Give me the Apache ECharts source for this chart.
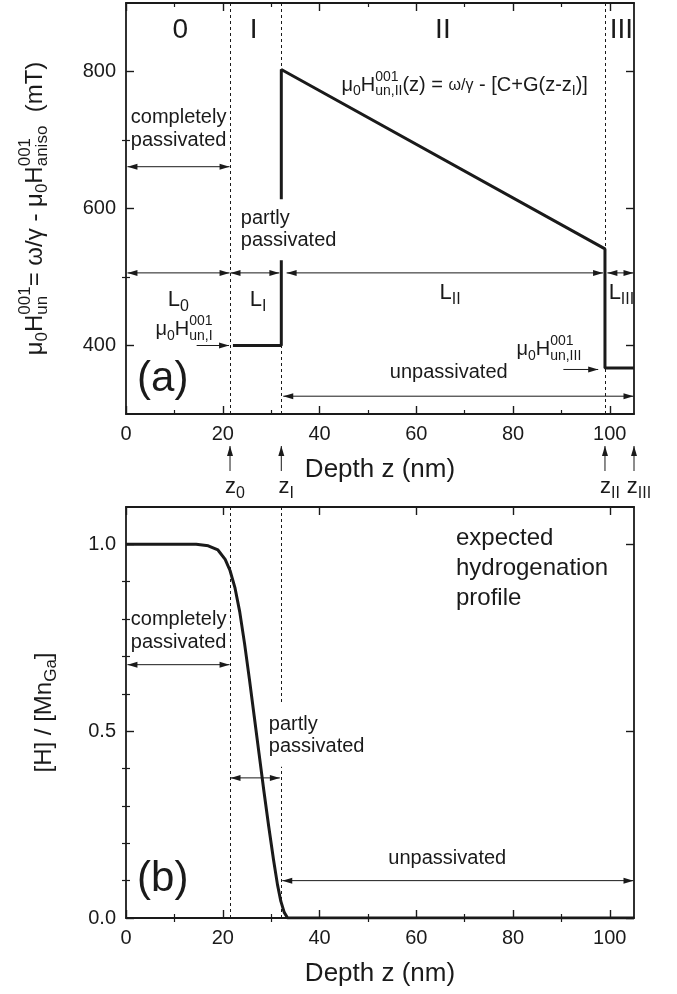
<!DOCTYPE html>
<html>
<head>
<meta charset="utf-8">
<script src="https://cdn.jsdelivr.net/npm/echarts@6/dist/echarts.min.js"></script>
<style>
  html, body { margin: 0; background: #fff; }
  #chart { width: 677px; height: 994px; }
</style>
</head>
<body>
<div id="chart"></div>
<script>
// ---- data ----
const depthMin = 0, depthMax = 105;
const xTickLabels = [0, 20, 40, 60, 80, 100];
const xMinorTicks = [10, 30, 50, 70, 90];
const fieldMin = 300, fieldMax = 900;
const fieldTickLabels = [400, 600, 800];
const fieldMinorTicks = [500, 700];
const hMin = 0, hMax = 1.1;
const hTickLabels = [0, 0.5, 1.0];
const hMinorTicks = [0.1, 0.2, 0.3, 0.4, 0.6, 0.7, 0.8, 0.9];

// layer boundaries z0, zI, zII, zIII (nm)
const zBounds = [21.5, 32.1, 99, 105];

// (a) uniaxial anisotropy field vs depth
const fieldDepth = [22.1, 32.1, 32.1, 99, 99, 105];
const fieldValue = [400, 400, 803, 541, 367, 367];

// (b) expected hydrogenation profile
const hDepth = [0, 14.5, 17, 19, 20.5, 21.5, 22.5, 23.5, 24.5, 25.5, 26.5, 27.5, 28.5, 29.5, 30.5, 31.3, 32, 32.7, 33.4, 105];
const hValue = [1, 1, 0.996, 0.985, 0.96, 0.93, 0.885, 0.82, 0.735, 0.64, 0.54, 0.44, 0.34, 0.245, 0.155, 0.09, 0.045, 0.015, 0, 0];

const INK = '#1a1a1a';
const FONT = '"Liberation Sans", Arial, sans-serif';

const chart = echarts.init(document.getElementById('chart'), null, { renderer: 'canvas' });

function sideAxes(grid, min, max, major, minor, pos, withLabels, extra) {
  return [
    Object.assign({
      type: 'value', gridIndex: grid, position: pos, min, max,
      axisLine: { show: true, onZero: false, lineStyle: { color: INK, width: 1.8 } },
      axisTick: { show: true, inside: true, length: 8, customValues: major, lineStyle: { color: INK, width: 1.4 } },
      axisLabel: { show: withLabels, customValues: major, margin: 10, fontSize: 20, fontFamily: FONT, color: INK },
      splitLine: { show: false },
    }, extra || {}),
    {
      type: 'value', gridIndex: grid, position: pos, min, max,
      axisLine: { show: false },
      axisTick: { show: true, inside: true, length: 4, customValues: minor, lineStyle: { color: INK, width: 1.2 } },
      axisLabel: { show: false },
      splitLine: { show: false },
    },
  ];
}

const depthName = {
  name: 'Depth z (nm)', nameLocation: 'middle', nameGap: 43,
  nameTextStyle: { fontSize: 26, fontFamily: FONT, color: INK },
};

const dashed = (xs) => ({
  silent: true, symbol: 'none', label: { show: false },
  lineStyle: { color: INK, width: 1, type: [3, 3] },
  data: xs.map(v => ({ xAxis: v })),
});

chart.setOption({
  animation: false,
  grid: [
    { left: 126, top: 3, width: 508, height: 411 },
    { left: 126, top: 507, width: 508, height: 411 },
  ],
  xAxis: [
    ...sideAxes(0, depthMin, depthMax, xTickLabels, xMinorTicks, 'bottom', true, depthName),
    ...sideAxes(0, depthMin, depthMax, xTickLabels, xMinorTicks, 'top', false),
    ...sideAxes(1, depthMin, depthMax, xTickLabels, xMinorTicks, 'bottom', true, depthName),
    ...sideAxes(1, depthMin, depthMax, xTickLabels, xMinorTicks, 'top', false),
  ],
  yAxis: [
    ...sideAxes(0, fieldMin, fieldMax, fieldTickLabels, fieldMinorTicks, 'left', true),
    ...sideAxes(0, fieldMin, fieldMax, fieldTickLabels, fieldMinorTicks, 'right', false),
    ...sideAxes(1, hMin, hMax, hTickLabels, hMinorTicks, 'left', true,
      { axisLabel: { customValues: hTickLabels, margin: 10, fontSize: 20, fontFamily: FONT, color: INK, formatter: v => v.toFixed(1) } }),
    ...sideAxes(1, hMin, hMax, hTickLabels, hMinorTicks, 'right', false),
  ],
  series: [
    {
      type: 'line', xAxisIndex: 0, yAxisIndex: 0,
      data: fieldDepth.map((z, i) => [z, fieldValue[i]]),
      showSymbol: false, silent: true,
      lineStyle: { color: INK, width: 3 },
      markLine: dashed(zBounds.slice(0, 3)),
    },
    {
      type: 'line', xAxisIndex: 4, yAxisIndex: 4,
      data: hDepth.map((z, i) => [z, hValue[i]]),
      showSymbol: false, silent: true,
      lineStyle: { color: INK, width: 3, join: 'round' },
      markLine: dashed(zBounds.slice(0, 2)),
    },
  ],
});

// ---- annotations (data units of each panel) ----
const arrowsA = [
  [0.3, 661, 21.4, 661, 'both'],
  [0.3, 506, 21.4, 506, 'both'],
  [21.6, 506, 31.7, 506, 'both'],
  [33.2, 506, 98.6, 506, 'both'],
  [99.5, 506, 104.9, 506, 'both'],
  [32.5, 326, 104.9, 326, 'both'],
  [14.6, 400, 21.3, 400, 'end'],
  [90.4, 365, 97.6, 365, 'end'],
];
const arrowsB = [
  [0.3, 0.678, 21.4, 0.678, 'both'],
  [21.6, 0.375, 31.8, 0.375, 'both'],
  [32.3, 0.1, 104.9, 0.1, 'both'],
];

const P = (s, x, y) => chart.convertToPixel({ seriesIndex: s }, [x, y]);

const ctx = document.createElement('canvas').getContext('2d');
function tw(s, size) { ctx.font = size + 'px ' + FONT; return ctx.measureText(s).width; }

function txt(t, x, y, size, extra) {
  return {
    type: 'text', x, y, z: 100, silent: true,
    style: Object.assign({
      text: t, font: size + 'px ' + FONT, fill: INK,
      align: 'left', verticalAlign: 'middle', textAlign: 'left', textVerticalAlign: 'middle',
    }, extra || {}),
  };
}

// parts: plain strings, {t, size} or {sup, sub} stacked scripts
function mathText(parts, size, pos, rotation) {
  const small = Math.round(size * 0.72);
  const kids = [];
  let x = 0;
  parts.forEach(p => {
    if (typeof p === 'string') { kids.push(txt(p, x, 0, size)); x += tw(p, size); }
    else if (p.t) { kids.push(txt(p.t, x, 0, p.size)); x += tw(p.t, p.size); }
    else {
      let w = 0;
      if (p.sup) { kids.push(txt(p.sup, x, -size * 0.42, small)); w = Math.max(w, tw(p.sup, small)); }
      if (p.sub) { kids.push(txt(p.sub, x, size * 0.32, small)); w = Math.max(w, tw(p.sub, small)); }
      x += w;
    }
  });
  kids.forEach(k => { k.x -= x / 2; });
  return { type: 'group', x: pos[0], y: pos[1], rotation: rotation || 0, children: kids };
}

function arrow(a, b, heads) {
  const head = (tip, from) => {
    const dx = tip[0] - from[0], dy = tip[1] - from[1];
    const L = Math.hypot(dx, dy), ux = dx / L, uy = dy / L, len = 10, hw = 3;
    return {
      type: 'polygon', z: 90, silent: true,
      shape: { points: [tip, [tip[0] - ux * len - uy * hw, tip[1] - uy * len + ux * hw], [tip[0] - ux * len + uy * hw, tip[1] - uy * len - ux * hw]] },
      style: { fill: INK },
    };
  };
  const els = [{ type: 'line', z: 90, silent: true, shape: { x1: a[0], y1: a[1], x2: b[0], y2: b[1] }, style: { stroke: INK, lineWidth: 1 } }];
  if (heads === 'both') els.push(head(a, b));
  els.push(head(b, a));
  return els;
}

const g = [];
arrowsA.forEach(r => g.push(...arrow(P(0, r[0], r[1]), P(0, r[2], r[3]), r[4])));
arrowsB.forEach(r => g.push(...arrow(P(1, r[0], r[1]), P(1, r[2], r[3]), r[4])));

// boundary pointers below panel (a)
const axisY = P(0, 0, fieldMin)[1];
const zNames = [['z', { sub: '0' }], ['z', { sub: 'I' }], ['z', { sub: 'II' }], ['z', { sub: 'III' }]];
zBounds.forEach((z, i) => {
  const px = P(0, z, fieldMin)[0];
  g.push(...arrow([px, axisY + 57], [px, axisY + 32], 'end'));
  g.push(mathText(zNames[i], 22, [px + 5, axisY + 73]));
});

// panel (a) texts
[['0', 11.2], ['I', 26.4], ['II', 65.5], ['III', 102.4]].forEach(([t, x]) => {
  g.push(txt(t, P(0, x, 860)[0], P(0, x, 860)[1], 28, { align: 'center', textAlign: 'center' }));
});
let p = P(0, 1.0, 716);
g.push(txt('completely\npassivated', p[0], p[1], 20, { lineHeight: 23 }));
p = P(0, 23.1, 569);
g.push(txt('partly\npassivated', p[0], p[1], 20, { lineHeight: 22, backgroundColor: '#fff', padding: [4, 4, 13, 3] }));
p = P(0, 66.7, 361);
g.push(txt('unpassivated', p[0], p[1], 20, { align: 'center', textAlign: 'center' }));
p = P(0, 7.6, 350);
g.push(txt('(a)', p[0], p[1], 42, { align: 'center', textAlign: 'center' }));
g.push(mathText(['L', { sub: '0' }], 22, P(0, 10.8, 467)));
g.push(mathText(['L', { sub: 'I' }], 22, P(0, 27.3, 467)));
g.push(mathText(['L', { sub: 'II' }], 22, P(0, 67, 477)));
g.push(mathText(['L', { sub: 'III' }], 22, P(0, 102.4, 477)));
g.push(mathText(['μ', { sub: '0' }, 'H', { sup: '001', sub: 'un,I' }], 20, P(0, 12.0, 423)));
g.push(mathText(['μ', { sub: '0' }, 'H', { sup: '001', sub: 'un,III' }], 20, P(0, 87.4, 394)));
g.push(mathText(['μ', { sub: '0' }, 'H', { sup: '001', sub: 'un,II' }, '(z) = ', { t: 'ω/γ', size: 16 }, ' - [C+G(z-z', { sub: 'I' }, ')]'], 20, P(0, 70.0, 780)));

// panel (b) texts
p = P(1, 68.2, 0.937);
g.push(txt('expected\nhydrogenation\nprofile', p[0], p[1], 24, { lineHeight: 30 }));
p = P(1, 1.0, 0.769);
g.push(txt('completely\npassivated', p[0], p[1], 20, { lineHeight: 23 }));
p = P(1, 28.9, 0.4875);
g.push(txt('partly\npassivated', p[0], p[1], 20, { lineHeight: 22, backgroundColor: '#fff', padding: [7, 4, 11, 3] }));
p = P(1, 66.4, 0.16);
g.push(txt('unpassivated', p[0], p[1], 20, { align: 'center', textAlign: 'center' }));
p = P(1, 7.6, 0.102);
g.push(txt('(b)', p[0], p[1], 42, { align: 'center', textAlign: 'center' }));

// y-axis titles
const midA = P(0, 0, (fieldMin + fieldMax) / 2);
g.push(mathText(['μ', { sub: '0' }, 'H', { sup: '001', sub: 'un' }, '= ω/γ - μ', { sub: '0' }, 'H', { sup: '001', sub: 'aniso' }, '  (mT)'],
  24, [midA[0] - 91, midA[1]], Math.PI / 2));
const midB = P(1, 0, (hMin + hMax) / 2);
g.push(mathText(['[H] / [Mn', { sub: 'Ga' }, ']'], 24, [midB[0] - 82, midB[1]], Math.PI / 2));

chart.setOption({ graphic: g });
</script>
</body>
</html>
